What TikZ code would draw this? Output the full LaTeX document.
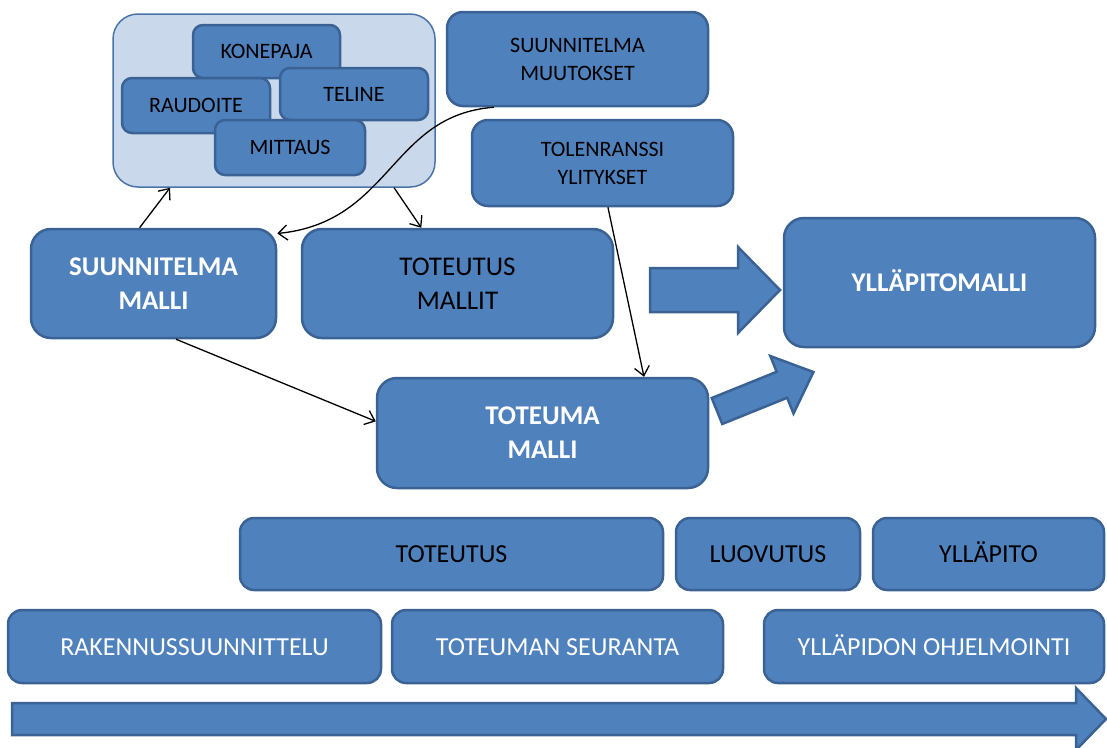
\documentclass[tikz,border=0pt]{standalone}
\usepackage{fontspec}
\setmainfont{Carlito}
\usetikzlibrary{arrows.meta}
\definecolor{boxblue}{HTML}{4F81BD}
\definecolor{boxedge}{HTML}{3B6294}
\definecolor{paleblue}{HTML}{C9D9EB}
\definecolor{paleedge}{HTML}{4A74A8}

\begin{document}
\begin{tikzpicture}[x=1pt,y=-1pt]
\tikzstyle{every node}+=[inner sep=0pt,align=center]
\tikzstyle{blk}=[draw=boxedge,fill=boxblue,line width=2.5pt,rounded corners=14pt]
\tikzstyle{small}=[blk,font=\fontsize{22}{28}\selectfont,rounded corners=10pt]
\tikzstyle{part}=[small,text height=14pt,text depth=0pt]
\tikzstyle{big}=[blk,font=\fontsize{27}{34}\selectfont\bfseries,text=white,rounded corners=20pt]
\tikzstyle{phase}=[blk,text height=17pt,text depth=0pt,font=\fontsize{26}{30}\selectfont]
\tikzstyle{link}=[line width=1.3pt,-{Straight Barb[length=9pt,width=15pt]}]
\tikzstyle{blockarrow}=[draw=boxedge,fill=boxblue,line width=2.5pt,line join=miter]
\useasboundingbox (0,0) rectangle (1107,747);

\node [draw=paleedge,fill=paleblue,line width=1.5pt,rounded corners=25pt,minimum width=322pt,minimum height=173pt] (group) at (274,100.5) {};
\node [part,minimum width=147pt,minimum height=53pt] (konepaja) at (266.5,51.5) {KONEPAJA};
\node [part,minimum width=148pt,minimum height=55pt] (raudoite) at (196,105.5) {RAUDOITE};
\node [part,minimum width=148pt,minimum height=52pt] (teline) at (354,94) {TELINE};
\node [part,minimum width=150pt,minimum height=55pt] (mittaus) at (290,147.5) {MITTAUS};

\node [small,rounded corners=16pt,minimum width=261pt,minimum height=94pt] (muutokset) at (577.5,59) {SUUNNITELMA\\MUUTOKSET};
\node [small,rounded corners=16pt,minimum width=261pt,minimum height=86pt] (toleranssi) at (602.5,163) {TOLENRANSSI\\YLITYKSET};

\node [big,minimum width=245pt,minimum height=109pt] (smalli) at (153.5,283.5) {SUUNNITELMA\\MALLI};
\node [big,font=\fontsize{27}{34}\selectfont,text=black,minimum width=311pt,minimum height=109pt] (tmallit) at (457.5,283.5) {TOTEUTUS\\MALLIT};
\node [big,minimum width=331pt,minimum height=110pt] (toteuma) at (542.5,433) {TOTEUMA\\MALLI};
\node [big,text height=17pt,text depth=0pt,minimum width=311pt,minimum height=129pt] (yllapitomalli) at (939.5,282.5) {YLLÄPITOMALLI};

\node [phase,minimum width=423pt,minimum height=72pt] (toteutus) at (451.5,554) {TOTEUTUS};
\node [phase,minimum width=184pt,minimum height=72pt] (luovutus) at (768,554) {LUOVUTUS};
\node [phase,minimum width=231pt,minimum height=72pt] (yllapito) at (988.5,554) {YLLÄPITO};
\node [phase,text=white,minimum width=373pt,minimum height=73pt] (rakennus) at (194.5,646.5) {RAKENNUSSUUNNITTELU};
\node [phase,text=white,minimum width=331pt,minimum height=73pt] (seuranta) at (557.5,646.5) {TOTEUMAN SEURANTA};
\node [phase,text=white,minimum width=340pt,minimum height=73pt] (ohjelmointi) at (934,646.5) {YLLÄPIDON OHJELMOINTI};

\draw [link] (smalli.104) -- (group.220.6);
\draw [link] (group.324) -- (tmallit.123);
\draw [link] (muutokset.210.3) .. controls (390,115) and (392,222) .. (smalli.22.9);
\draw [link] (toleranssi.277.3) -- (toteuma.29.4);
\draw [link] (smalli.292.4) -- (toteuma.176.2);

\filldraw [blockarrow] (650,268) -- (738,268) -- (738,247) -- (780,290) -- (738,333) -- (738,312) -- (650,312) -- cycle;
\begin{scope}[shift={(717,411)},rotate=22]
\filldraw [blockarrow] (0,-14) -- (70,-14) -- (70,-31) -- (104,0) -- (70,31) -- (70,14) -- (0,14) -- cycle;
\end{scope}
\filldraw [blockarrow] (12,703) -- (1076,703) -- (1076,688) -- (1106,719) -- (1076,750) -- (1076,735) -- (12,735) -- cycle;
\end{tikzpicture}
\end{document}
